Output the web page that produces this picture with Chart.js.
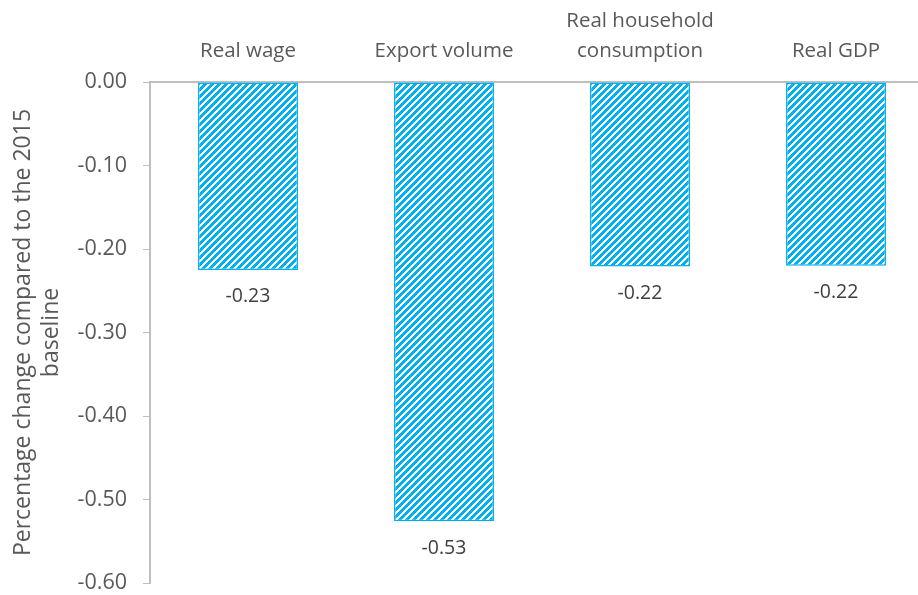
<!DOCTYPE html>
<html>
<head>
<meta charset="utf-8">
<script src="https://cdn.jsdelivr.net/npm/chart.js@4.4.0/dist/chart.umd.min.js"></script>
<style>
html,body{margin:0;padding:0;background:#fff;overflow:hidden;width:918px;height:595px;}
#wrap{position:absolute;left:0;top:0;width:934px;height:595px;}
</style>
</head>
<body>
<div id="wrap"><canvas id="c"></canvas></div>
<script>
const categories = [["Real wage"], ["Export volume"], ["Real household", "consumption"], ["Real GDP"]];
const values = [-0.225, -0.526, -0.221, -0.220];
const yTitle = ["Percentage change compared to the 2015", "baseline"];

function makePattern() {
  const s = 7;
  const p = document.createElement('canvas');
  p.width = s; p.height = s;
  const g = p.getContext('2d');
  const img = g.createImageData(s, s);
  for (let y = 0; y < s; y++) {
    for (let x = 0; x < s; x++) {
      const i = (y * s + x) * 4;
      const blue = ((x + y) % s) < 4;
      img.data[i] = blue ? 0 : 255;
      img.data[i + 1] = blue ? 176 : 255;
      img.data[i + 2] = blue ? 240 : 255;
      img.data[i + 3] = 255;
    }
  }
  g.putImageData(img, 0, 0);
  return document.getElementById('c').getContext('2d').createPattern(p, 'repeat');
}

const dataLabels = {
  id: 'dataLabels',
  afterDatasetsDraw(chart) {
    const ctx = chart.ctx;
    const meta = chart.getDatasetMeta(0);
    ctx.save();
    ctx.font = '19.5px "Open Sans", sans-serif';
    ctx.fillStyle = '#404040';
    ctx.textAlign = 'center';
    ctx.textBaseline = 'middle';
    meta.data.forEach((bar, i) => {
      ctx.fillText(values[i].toFixed(2), bar.x, bar.y + 27);
    });
    ctx.restore();
  }
};

new Chart(document.getElementById('c'), {
  type: 'bar',
  data: {
    labels: categories,
    datasets: [{
      data: values,
      backgroundColor: makePattern(),
      borderColor: '#00B0F0',
      borderWidth: 1.5,
      borderSkipped: false,
      categoryPercentage: 1,
      barPercentage: 0.51
    }]
  },
  options: {
    responsive: true,
    maintainAspectRatio: false,
    animation: false,
    layout: { padding: { top: 0, bottom: 12, left: 0, right: 0 } },
    plugins: { legend: { display: false }, tooltip: { enabled: false } },
    scales: {
      x: {
        position: 'top',
        afterFit: s => { s.height = 82; },
        grid: { display: false, drawTicks: false },
        border: { display: true, color: '#bfbfbf', width: 2 },
        ticks: { color: '#595959', font: { family: '"Open Sans", sans-serif', size: 20.5, lineHeight: 1.45 }, padding: 16, maxRotation: 0 }
      },
      y: {
        min: -0.6, max: 0,
        afterFit: s => { s.width = 150; s.paddingTop = 0; s.paddingBottom = 0; },
        ticks: { stepSize: 0.1, color: '#595959', font: { family: '"Open Sans", sans-serif', size: 21.5 }, padding: 16,
                 callback: v => Number(v).toFixed(2) },
        grid: { drawOnChartArea: false, drawTicks: true, tickLength: 7, color: '#bfbfbf' },
        border: { display: true, color: '#bfbfbf', width: 2 },
        title: { display: true, text: yTitle, color: '#595959', font: { family: '"Open Sans", sans-serif', size: 23, lineHeight: 1.2 }, padding: { top: 10, bottom: 0 } }
      }
    }
  },
  plugins: [dataLabels]
});
</script>
</body>
</html>
